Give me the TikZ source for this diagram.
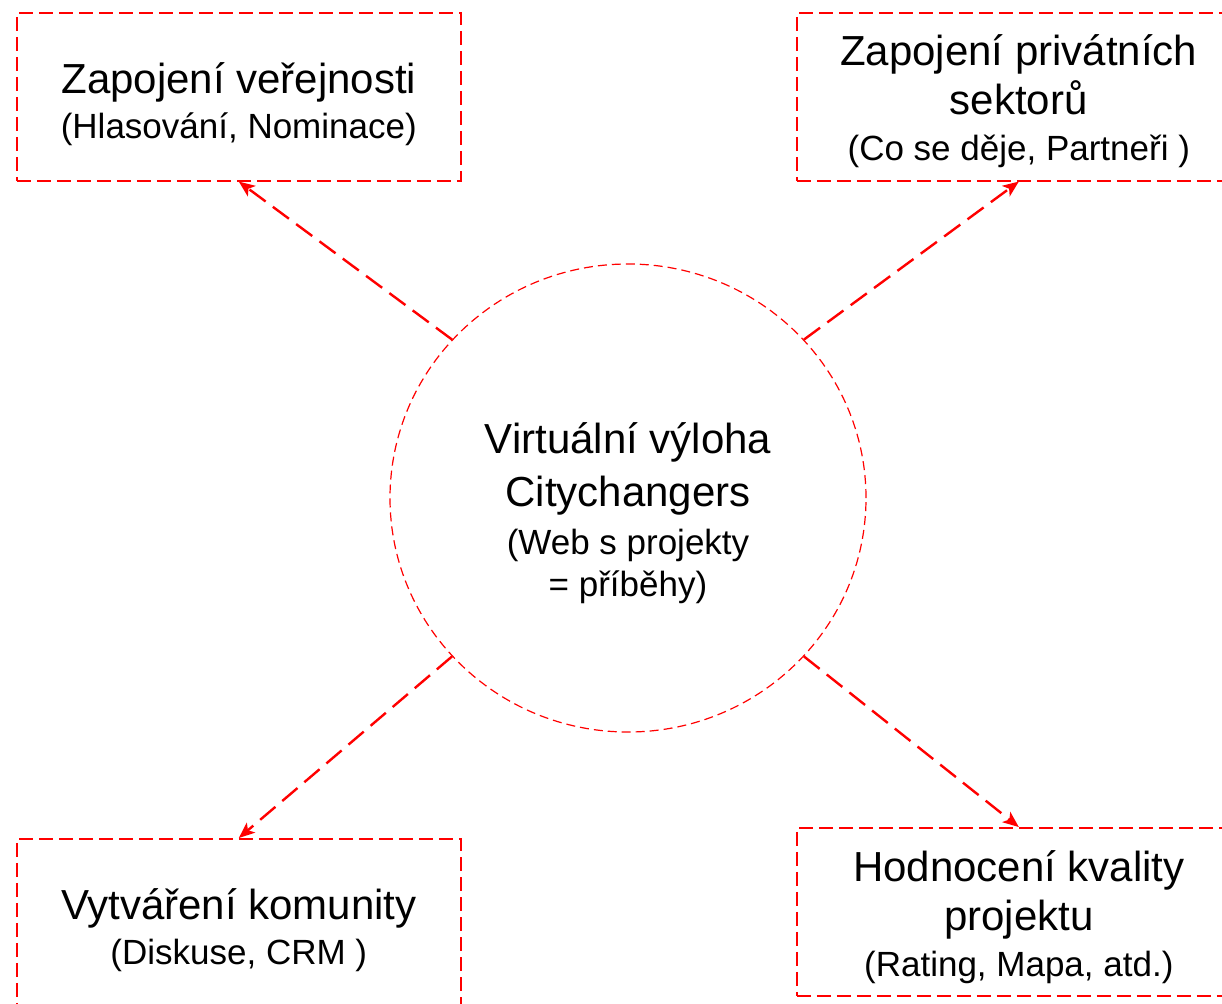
\documentclass[tikz,border=0pt]{standalone}
\usepackage{fontspec}
\setmainfont{Liberation Sans}
\usetikzlibrary{arrows.meta,shapes.geometric}
\definecolor{dred}{RGB}{255,0,0}
\tikzset{
  box/.style={draw=dred, line width=1.6pt, dash pattern=on 14pt off 6pt,
    minimum width=444pt, minimum height=168pt, inner sep=0pt, align=center,
    font=\fontsize{42}{48.5}\selectfont, anchor=north west},
  hub/.style={draw=dred, ellipse, line width=1.2pt, dash pattern=on 9pt off 5pt,
    minimum width=476pt, minimum height=468pt, inner sep=0pt, align=center,
    font=\fontsize{42}{53}\selectfont},
  link/.style={draw=dred, line width=2.4pt, dash pattern=on 20pt off 9pt,
    -{Stealth[length=16pt,width=13pt,inset=4pt,fill=dred]}}
}
\newcommand{\smtxt}[1]{{\fontsize{35}{42}\selectfont #1}}
\newcommand{\pushdown}[1]{\rule{0pt}{#1}}
\begin{document}
\begin{tikzpicture}[x=1pt,y=-1pt]
\useasboundingbox (0,0) rectangle (1222,1003);
\clip (0,0) rectangle (1222,1003);
\node[box] (tl) at (16,12) {\pushdown{46pt}Zapojení veřejnosti\\[-4pt]\smtxt{(Hlasování, Nominace)}};
\node[box] (tr) at (796,12) {\pushdown{40pt}Zapojení privátních\\sektorů\\[-2pt]\smtxt{(Co se děje, Partneři )}};
\node[box] (bl) at (16,838) {\pushdown{46pt}Vytváření komunity\\[-4pt]\smtxt{(Diskuse, CRM )}};
\node[box] (br) at (796,827) {\pushdown{42pt}Hodnocení kvality\\projektu\\[-2pt]\smtxt{(Rating, Mapa, atd.)}};
\node[hub] (c) at (628,498) {\pushdown{62pt}Virtuální výloha\\Citychangers\\[-5pt]\smtxt{(Web s projekty}\\[-11pt]\smtxt{= příběhy)}};
\draw[link] (c.138) -- (tl.south);
\draw[link] (c.42) -- (tr.south);
\draw[link] (c.222) -- (bl.north);
\draw[link] (c.318) -- (br.north);
\end{tikzpicture}
\end{document}
